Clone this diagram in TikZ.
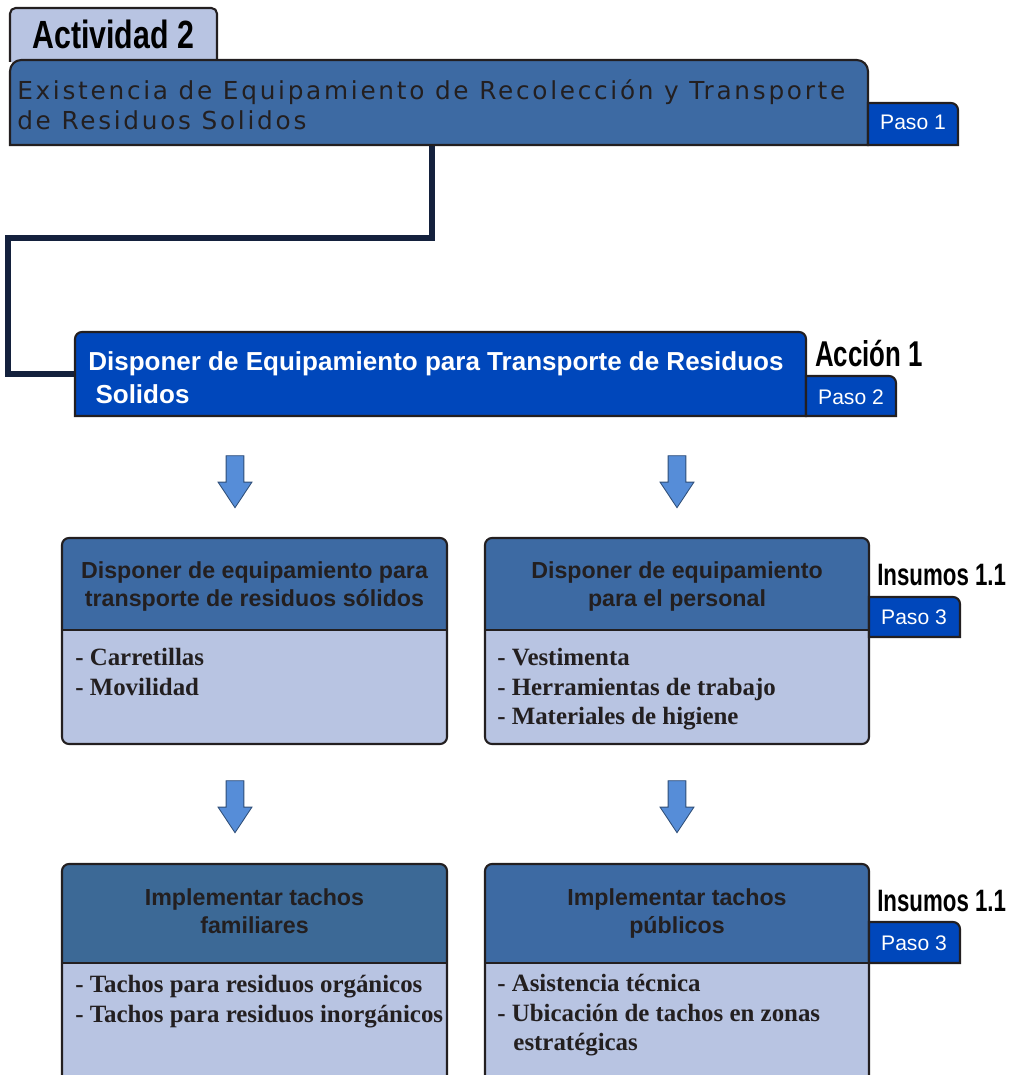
\documentclass[tikz,border=0pt]{standalone}
\usepackage{fontspec}
\setmainfont{Liberation Serif}
\setsansfont{Liberation Sans}
\newfontfamily\narrowfont[FakeStretch=0.72]{Liberation Sans}
\newfontfamily\actfont[FakeStretch=0.77]{Liberation Sans}
\newfontfamily\widefont[LetterSpace=11]{DejaVu Sans}
\usetikzlibrary{shapes.arrows,fit,positioning}

\definecolor{steel}{HTML}{3D6AA3}
\definecolor{steeldk}{HTML}{3C6996}
\definecolor{royal}{HTML}{0047BB}
\definecolor{lavender}{HTML}{B8C4E2}
\definecolor{navy}{HTML}{14213D}
\definecolor{sky}{HTML}{568DD8}
\definecolor{ink}{HTML}{231F20}

\tikzset{
  outline/.style={draw=ink, line width=1.5pt},
  wire/.style={draw=navy, line width=4.3pt},
  holder/.style={inner sep=0pt, outer sep=0pt},
  blockarrow/.style={single arrow, draw=sky!55!black, line width=0.6pt, fill=sky,
    rotate=-90, inner xsep=0pt, inner ysep=6pt, minimum height=37pt, minimum width=23.5pt,
    single arrow head extend=5.75pt, single arrow tip angle=67},
  tagtxt/.style={font=\narrowfont\bfseries\fontsize{25.5}{30}\selectfont, text=black, inner sep=0pt},
  pasotxt/.style={font=\sffamily\fontsize{15}{18}\selectfont, text=white, inner sep=0pt},
  headtxt/.style={font=\sffamily\bfseries\fontsize{16.5}{19.9}\selectfont, text=ink, align=center, inner sep=0pt},
  listtxt/.style={font=\bfseries\fontsize{17.7}{21}\selectfont, text=ink, align=left, inner sep=0pt},
}

\begin{document}
\begin{tikzpicture}[x=0.025cm, y=-0.025cm]
\useasboundingbox (0,0) rectangle (1009,1075);
\clip (0,0) rectangle (1009,1075);

% boxes
\node[holder, fit={(10,60) (868,145)}] (actbox) {};
\node[holder, fit={(75,332) (806,416)}] (accbox) {};
\node[holder, fit={(62,538) (447,744)}] (l1) {};
\node[holder, fit={(485,538) (869,744)}] (r1) {};
\node[holder, fit={(62,864) (447,1095)}] (l2) {};
\node[holder, fit={(485,864) (869,1095)}] (r2) {};

% connector
\coordinate (turn) at (8,238);
\draw[wire] ([xshift=-0.175cm]actbox.south) |- (turn) |- (accbox.west);

% actividad
\draw[outline, fill=lavender, rounded corners=4pt] (10,62) -- (10,8) -- (217,8) -- (217,62);
\draw[outline, fill=steel] (actbox.south) -- (actbox.south west) [rounded corners=8pt] -- (actbox.north west) -- (actbox.north east) [sharp corners] -- (actbox.south east) -- cycle;
\draw[outline, fill=royal] (868,145) -- (868,103) [rounded corners=5pt] -- (958,103) [sharp corners] -- (958,145) -- cycle;
\node[anchor=base west, inner sep=0pt, font=\actfont\bfseries\fontsize{28}{32}\selectfont] (act) at (32,49) {Actividad 2};
\node[anchor=north west, inner sep=0pt, font=\widefont\fontsize{17.6}{21.3}\selectfont, text=ink, align=left] (acttxt) at (17,79) {Existencia de Equipamiento de Recolección y Transporte\\de Residuos Solidos};
\node[pasotxt, anchor=base] (paso1) at (913,130) {Paso 1};

% accion
\draw[outline, fill=royal] (accbox.south) -- (accbox.south west) [rounded corners=5pt] -- (accbox.north west) -- (accbox.north east) [sharp corners] -- (accbox.south east) -- cycle;
\draw[outline, fill=royal] (806,416) -- (806,376) [rounded corners=5pt] -- (896,376) [sharp corners] -- (896,416) -- cycle;
\node[anchor=north west, inner sep=0pt, font=\sffamily\bfseries\fontsize{18.5}{23.5}\selectfont, text=white, align=left] (acctxt) at (88,351) {Disponer de Equipamiento para Transporte de Residuos\\~Solidos};
\node[tagtxt, anchor=base west] (accion) at (815,367) {Acción 1};
\node[pasotxt, anchor=base] (paso2) at (851,404) {Paso 2};

% arrows
\node[blockarrow] (a1) at (235,475) {};
\node[blockarrow] (a2) at (677,475) {};
\node[blockarrow] (a3) at (235,800) {};
\node[blockarrow] (a4) at (677,800) {};

% insumo boxes
\begin{scope}
  \clip[rounded corners=5pt] (l1.north west) rectangle (l1.south east);
  \fill[lavender] (l1.north west) rectangle (l1.south east);
  \fill[steel] (l1.north west) rectangle (447,630);
\end{scope}
\draw[outline, rounded corners=5pt] (l1.north west) rectangle (l1.south east);
\draw[outline] (62,630) -- (447,630);

\begin{scope}
  \clip[rounded corners=5pt] (r1.north west) rectangle (r1.south east);
  \fill[lavender] (r1.north west) rectangle (r1.south east);
  \fill[steel] (r1.north west) rectangle (869,630);
\end{scope}
\draw[outline, rounded corners=5pt] (r1.north west) rectangle (r1.south east);
\draw[outline] (485,630) -- (869,630);

\begin{scope}
  \clip[rounded corners=5pt] (l2.north west) rectangle (l2.south east);
  \fill[lavender] (l2.north west) rectangle (l2.south east);
  \fill[steeldk] (l2.north west) rectangle (447,963);
\end{scope}
\draw[outline, rounded corners=5pt] (l2.north west) rectangle (l2.south east);
\draw[outline] (62,963) -- (447,963);

\begin{scope}
  \clip[rounded corners=5pt] (r2.north west) rectangle (r2.south east);
  \fill[lavender] (r2.north west) rectangle (r2.south east);
  \fill[steel] (r2.north west) rectangle (869,963);
\end{scope}
\draw[outline, rounded corners=5pt] (r2.north west) rectangle (r2.south east);
\draw[outline] (485,963) -- (869,963);

% paso 3 tabs
\draw[outline, fill=royal] (869,637) -- (869,597) [rounded corners=5pt] -- (960,597) [sharp corners] -- (960,637) -- cycle;
\draw[outline, fill=royal] (869,963) -- (869,922) [rounded corners=5pt] -- (960,922) [sharp corners] -- (960,963) -- cycle;
\node[pasotxt, anchor=base] (paso3a) at (914,624) {Paso 3};
\node[pasotxt, anchor=base] (paso3b) at (914,950) {Paso 3};
\node[tagtxt, font=\narrowfont\bfseries\fontsize{22}{26}\selectfont, anchor=base west] (insumo1) at (877,585) {Insumos 1.1};
\node[tagtxt, font=\narrowfont\bfseries\fontsize{22}{26}\selectfont, anchor=base west] (insumo2) at (877,911) {Insumos 1.1};

% texts
\node[headtxt, anchor=north] (l1head) at (254.5,561) {Disponer de equipamiento para\\transporte de residuos sólidos};
\node[headtxt, anchor=north] (r1head) at (677,561) {Disponer de equipamiento\\para el personal};
\node[headtxt, anchor=north] (l2head) at (254.5,888) {Implementar tachos\\familiares};
\node[headtxt, anchor=north] (r2head) at (677,888) {Implementar tachos\\públicos};
\node[listtxt, anchor=north west] (l1list) at (75,648) {- Carretillas\\- Movilidad};
\node[listtxt, anchor=north west] (r1list) at (497,648) {- Vestimenta\\- Herramientas de trabajo\\- Materiales de higiene};
\node[listtxt, anchor=north west] (l2list) at (75,975) {- Tachos para residuos orgánicos\\- Tachos para residuos inorgánicos};
\node[listtxt, anchor=north west] (r2list) at (497,974) {- Asistencia técnica\\- Ubicación de tachos en zonas\\\hspace*{0.65em}estratégicas};
\end{tikzpicture}
\end{document}
